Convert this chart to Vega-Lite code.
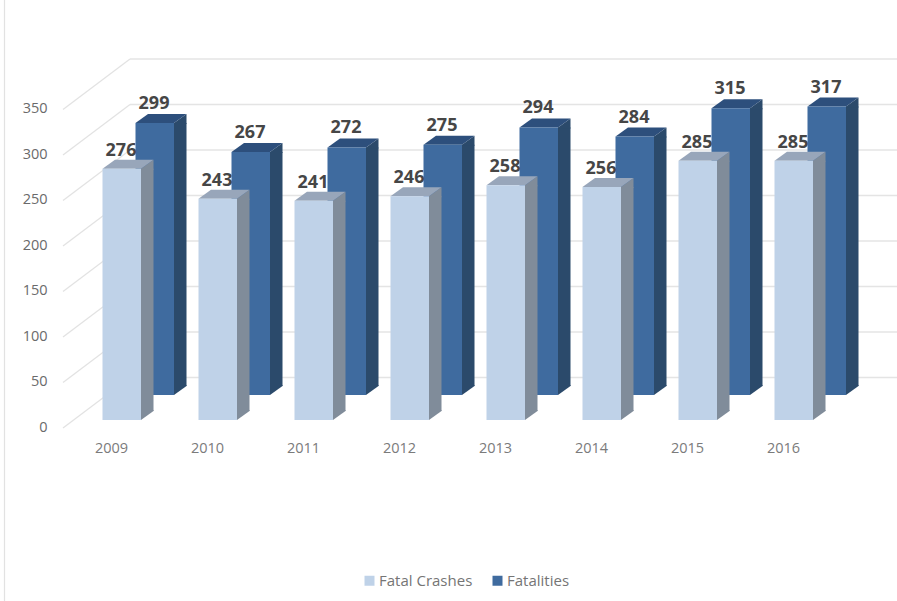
{
"$schema":"https://vega.github.io/schema/vega-lite/v6.json",
"width":897,"height":601,"padding":0,"autosize":{"type":"none"},"background":"white",
"config":{"view":{"stroke":null}},
"datasets":{
"bars":[
{"year":2009,"series":"Fatal Crashes","value":276},{"year":2010,"series":"Fatal Crashes","value":243},{"year":2011,"series":"Fatal Crashes","value":241},{"year":2012,"series":"Fatal Crashes","value":246},{"year":2013,"series":"Fatal Crashes","value":258},{"year":2014,"series":"Fatal Crashes","value":256},{"year":2015,"series":"Fatal Crashes","value":285},{"year":2016,"series":"Fatal Crashes","value":285},
{"year":2009,"series":"Fatalities","value":299},{"year":2010,"series":"Fatalities","value":267},{"year":2011,"series":"Fatalities","value":272},{"year":2012,"series":"Fatalities","value":275},{"year":2013,"series":"Fatalities","value":294},{"year":2014,"series":"Fatalities","value":284},{"year":2015,"series":"Fatalities","value":315},{"year":2016,"series":"Fatalities","value":317}
],
"levels":[{"level":0},{"level":50},{"level":100},{"level":150},{"level":200},{"level":250},{"level":300},{"level":350}]
},
"layer":[
{"data":{"values":[{"edge":2007.890625}]},"mark":{"type":"rule","color":"#e2e2e2","strokeWidth":1.2},"encoding":{"x":{"field":"edge","type":"quantitative","scale":{"domain":[2007.84375,2017.1875],"nice":false,"zero":false,"padding":0},"axis":{"values":[2009,2010,2011,2012,2013,2014,2015,2016],"format":"d","title":null,"grid":false,"domain":false,"ticks":false,"offset":-161,"labelPadding":8,"labelBaseline":"middle","labelFont":"Open Sans","labelFontSize":14.5,"labelColor":"#7b7b7b","labelFlush":false,"labelOverlap":false}},"y":{"value":0},"y2":{"value":601}}},
{"data":{"name":"levels"},"mark":{"type":"rule","color":"#e4e4e4","strokeWidth":1.5,"yOffset":-42.5},"encoding":{"x":{"datum":2009.1979,"type":"quantitative"},"x2":{"datum":2017.1875},"y":{"field":"level","type":"quantitative","scale":{"domain":[-198.9,461.54],"nice":false,"zero":false,"padding":0},"axis":{"values":[0,50,100,150,200,250,300,350],"title":null,"grid":false,"domain":false,"ticks":false,"offset":-47,"labelPadding":0,"labelOffset":7,"labelFont":"Open Sans","labelFontSize":14.5,"labelColor":"#6a6a6a","labelFlush":false,"labelOverlap":false}}}},
{"data":{"name":"levels"},"mark":{"type":"point","filled":false,"stroke":"#e2e2e2","strokeWidth":1.2,"opacity":1,"size":4489,"shape":"M-1 .7537 L1 -.7537","yOffset":-17.25},"encoding":{"x":{"datum":2008.84896,"type":"quantitative"},"y":{"field":"level","type":"quantitative"}}},

{"data":{"name":"bars"},"transform":[{"filter":"datum.series==='Fatalities'"}],"mark":{"type":"bar","orient":"vertical","width":12.5,"color":"#2b4a6b","xOffset":69.25,"yOffset":-25,"y2Offset":-34},"encoding":{"x":{"field":"year","type":"quantitative"},"y":{"field":"value","type":"quantitative"},"y2":{"datum":0}}},
{"data":{"name":"bars"},"transform":[{"filter":"datum.series==='Fatalities'"}],"mark":{"type":"point","filled":true,"opacity":1,"strokeWidth":0,"color":"#2b4a6b","size":400,"shape":"M1.925 0 L3.175 -.9 L3.175 .1 L1.925 .1Z","xOffset":43.75,"yOffset":-25},"encoding":{"x":{"field":"year","type":"quantitative"},"y":{"field":"value","type":"quantitative"}}},
{"data":{"name":"bars"},"transform":[{"filter":"datum.series==='Fatalities'"}],"mark":{"type":"point","filled":true,"opacity":1,"strokeWidth":0,"color":"#2b4a6b","size":400,"shape":"M1.925 0 L3.175 -.9 L3.175 -1 L1.925 -1Z","xOffset":43.75,"yOffset":-25},"encoding":{"x":{"field":"year","type":"quantitative"},"y":{"datum":0,"type":"quantitative"}}},
{"data":{"name":"bars"},"transform":[{"filter":"datum.series==='Fatalities'"}],"mark":{"type":"point","filled":true,"opacity":1,"strokeWidth":0,"color":"#2d4f7c","size":400,"shape":"M-1.925 0 L-.675 -.9 L3.175 -.9 L1.925 0Z","xOffset":43.75,"yOffset":-25},"encoding":{"x":{"field":"year","type":"quantitative"},"y":{"field":"value","type":"quantitative"}}},
{"data":{"name":"bars"},"transform":[{"filter":"datum.series==='Fatalities'"}],"mark":{"type":"bar","orient":"vertical","width":38.5,"xOffset":43.75,"yOffset":-25,"y2Offset":-25},"encoding":{"x":{"field":"year","type":"quantitative"},"y":{"field":"value","type":"quantitative"},"y2":{"datum":0},"color":{"field":"series","type":"nominal","scale":{"domain":["Fatal Crashes","Fatalities"],"range":["#bfd2e8","#3f6b9f"]},"legend":{"title":null,"orient":"none","legendX":362,"legendY":573,"direction":"horizontal","symbolType":"square","symbolSize":100,"symbolStrokeWidth":0,"columnPadding":17,"labelOffset":2,"labelFont":"Open Sans","labelFontSize":15,"labelColor":"#757575","padding":0}}}},

{"data":{"name":"bars"},"transform":[{"filter":"datum.series==='Fatal Crashes'"}],"mark":{"type":"bar","orient":"vertical","width":12.5,"color":"#808c9a","xOffset":36.25,"y2Offset":-9},"encoding":{"x":{"field":"year","type":"quantitative"},"y":{"field":"value","type":"quantitative"},"y2":{"datum":0}}},
{"data":{"name":"bars"},"transform":[{"filter":"datum.series==='Fatal Crashes'"}],"mark":{"type":"point","filled":true,"opacity":1,"strokeWidth":0,"color":"#808c9a","size":400,"shape":"M1.925 0 L3.175 -.9 L3.175 .1 L1.925 .1Z","xOffset":10.75},"encoding":{"x":{"field":"year","type":"quantitative"},"y":{"field":"value","type":"quantitative"}}},
{"data":{"name":"bars"},"transform":[{"filter":"datum.series==='Fatal Crashes'"}],"mark":{"type":"point","filled":true,"opacity":1,"strokeWidth":0,"color":"#808c9a","size":400,"shape":"M1.925 0 L3.175 -.9 L3.175 -1 L1.925 -1Z","xOffset":10.75},"encoding":{"x":{"field":"year","type":"quantitative"},"y":{"datum":0,"type":"quantitative"}}},
{"data":{"name":"bars"},"transform":[{"filter":"datum.series==='Fatal Crashes'"}],"mark":{"type":"point","filled":true,"opacity":1,"strokeWidth":0,"color":"#98a6ba","size":400,"shape":"M-1.925 0 L-.675 -.9 L3.175 -.9 L1.925 0Z","xOffset":10.75},"encoding":{"x":{"field":"year","type":"quantitative"},"y":{"field":"value","type":"quantitative"}}},
{"data":{"name":"bars"},"transform":[{"filter":"datum.series==='Fatal Crashes'"}],"mark":{"type":"bar","orient":"vertical","width":38.5,"xOffset":10.75},"encoding":{"x":{"field":"year","type":"quantitative"},"y":{"field":"value","type":"quantitative"},"y2":{"datum":0},"color":{"field":"series","type":"nominal"}}},

{"data":{"name":"bars"},"transform":[{"filter":"datum.series==='Fatalities'"}],"mark":{"type":"text","font":"Open Sans","fontWeight":"bold","fontSize":18,"color":"#464646","baseline":"alphabetic","dx":43,"dy":-39},"encoding":{"x":{"field":"year","type":"quantitative"},"y":{"field":"value","type":"quantitative"},"text":{"field":"value","type":"quantitative"}}},
{"data":{"name":"bars"},"transform":[{"filter":"datum.series==='Fatal Crashes'"}],"mark":{"type":"text","font":"Open Sans","fontWeight":"bold","fontSize":18,"color":"#464646","baseline":"alphabetic","dx":10,"dy":-13},"encoding":{"x":{"field":"year","type":"quantitative"},"y":{"field":"value","type":"quantitative"},"text":{"field":"value","type":"quantitative"}}}
]
}
